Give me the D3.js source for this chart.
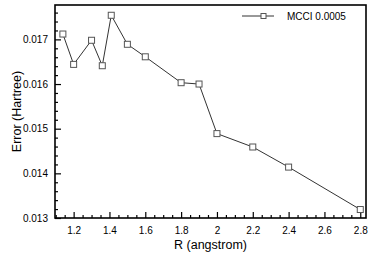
<!DOCTYPE html>
<html>
<head>
<meta charset="utf-8">
<script src="https://cdn.jsdelivr.net/npm/d3@7"></script>
<style>
  body { margin: 0; background: #fff; }
  text { font-family: "Liberation Sans", Arial, sans-serif; fill: #000; }
</style>
</head>
<body>
<div id="chart"></div>
<script>
// data
const rValues = [1.14, 1.2, 1.3, 1.36, 1.41, 1.5, 1.6, 1.8, 1.9, 2.0, 2.2, 2.4, 2.8];
const errorValues = [0.01712, 0.01644, 0.01698, 0.01641, 0.01754, 0.01689, 0.01661,
                     0.01603, 0.01600, 0.01489, 0.01459, 0.01414, 0.01319];
const xTicks = [1.2, 1.4, 1.6, 1.8, 2, 2.2, 2.4, 2.6, 2.8];
const yTicks = [0.013, 0.014, 0.015, 0.016, 0.017];
const seriesName = "MCCI 0.0005";

const width = 374;
const height = 264;
const margin = { top: 5, right: 8, bottom: 46, left: 55 };

const svg = d3.select("#chart").append("svg")
  .attr("width", width)
  .attr("height", height);

const x = d3.scaleLinear()
  .domain([1.096, 2.832])
  .range([margin.left, width - margin.right]);

const y = d3.scaleLinear()
  .domain([0.013, 0.01777])
  .range([height - margin.bottom, margin.top]);

// frame
svg.append("rect")
  .attr("x", margin.left)
  .attr("y", margin.top)
  .attr("width", width - margin.left - margin.right)
  .attr("height", height - margin.top - margin.bottom)
  .attr("fill", "none")
  .attr("stroke", "#000")
  .attr("stroke-width", 1.6);

// x axis, ticks pointing inward
const xMinor = d3.range(1.1, 2.84, 0.05).filter(v => !xTicks.some(t => Math.abs(t - v) < 1e-6));
const xAxisG = svg.append("g")
  .attr("transform", `translate(0,${height - margin.bottom})`);
xAxisG.call(d3.axisBottom(x).tickValues(xTicks).tickSize(-6).tickPadding(9)
  .tickFormat(d3.format("~g")));
xAxisG.append("g").call(d3.axisBottom(x).tickValues(xMinor).tickSize(-3).tickFormat(""));

// y axis
const yMinor = d3.range(0.0130, 0.01777, 0.0002).filter(v => !yTicks.some(t => Math.abs(t - v) < 1e-7));
const yAxisG = svg.append("g")
  .attr("transform", `translate(${margin.left},0)`);
yAxisG.call(d3.axisLeft(y).tickValues(yTicks).tickSize(-6).tickPadding(7)
  .tickFormat(d3.format(".3f")));
yAxisG.append("g").call(d3.axisLeft(y).tickValues(yMinor).tickSize(-3).tickFormat(""));

svg.selectAll(".domain").remove();
svg.selectAll(".tick line").attr("stroke", "#000").attr("stroke-width", 1.2);
svg.selectAll(".tick text").style("font-size", "10px").attr("fill", "#000");

// axis titles
svg.append("text")
  .attr("x", (margin.left + width - margin.right) / 2)
  .attr("y", 249)
  .attr("text-anchor", "middle")
  .style("font-size", "12.5px")
  .text("R (angstrom)");

svg.append("text")
  .attr("transform", `translate(21,${(margin.top + height - margin.bottom) / 2}) rotate(-90)`)
  .attr("text-anchor", "middle")
  .style("font-size", "12.5px")
  .text("Error (Hartree)");

// series
const points = rValues.map((r, i) => ({ r, e: errorValues[i] }));

svg.append("path")
  .datum(points)
  .attr("fill", "none")
  .attr("stroke", "#333")
  .attr("stroke-width", 1)
  .attr("d", d3.line().x(d => x(d.r)).y(d => y(d.e)));

const s = 6;
svg.selectAll("rect.marker")
  .data(points)
  .join("rect")
  .attr("class", "marker")
  .attr("x", d => x(d.r) - s / 2)
  .attr("y", d => y(d.e) - s / 2)
  .attr("width", s)
  .attr("height", s)
  .attr("fill", "#fff")
  .attr("stroke", "#555")
  .attr("stroke-width", 1);

// legend
const legend = svg.append("g").attr("transform", "translate(242,16)");
legend.append("line")
  .attr("x1", 0).attr("x2", 32)
  .attr("stroke", "#333").attr("stroke-width", 1);
legend.append("rect")
  .attr("x", 19).attr("y", -2.5)
  .attr("width", 5).attr("height", 5)
  .attr("fill", "#fff").attr("stroke", "#555");
legend.append("text")
  .attr("x", 45).attr("y", 3.5)
  .style("font-size", "10px")
  .text(seriesName);
</script>
</body>
</html>
